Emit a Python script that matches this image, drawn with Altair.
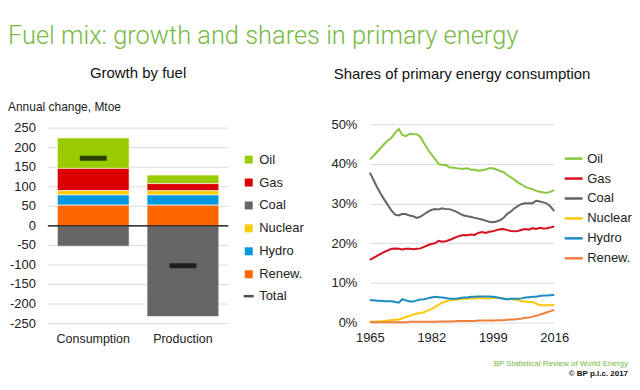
import altair as alt
import pandas as pd

# ---------------- data ----------------
fuels = ["Oil", "Gas", "Coal", "Nuclear", "Hydro", "Renew."]
stack_rank = [4, 3, 5, 2, 1, 0]          # stacking order (Renew. at the bottom)
groups = ["Consumption", "Production"]
consumption = [78, 57, -52, 11, 26, 53]
production = [22, 18, -232, 11, 26, 53]
totals = [173, -102]
total_label = "Total"

years = list(range(1965, 2017))
oil = [41.2, 42.0, 43.0, 44.0, 45.0, 45.9, 46.6, 47.8, 48.8, 47.3,
       47.0, 47.6, 47.5, 47.5, 46.8, 45.2, 43.7, 42.4, 41.3, 40.0,
       39.7, 39.8, 39.1, 39.1, 38.9, 38.8, 38.8, 38.9, 38.5, 38.5,
       38.3, 38.4, 38.6, 38.9, 38.9, 38.6, 38.2, 37.9, 37.2, 36.6,
       36.0, 35.3, 34.8, 34.2, 33.9, 33.6, 33.2, 33.0, 32.8, 32.7,
       33.0, 33.4]
gas = [15.8, 16.3, 16.8, 17.3, 17.8, 18.2, 18.6, 18.7, 18.6, 18.4,
       18.6, 18.6, 18.5, 18.6, 18.7, 19.1, 19.5, 19.8, 20.0, 20.6,
       20.4, 20.5, 20.8, 21.2, 21.6, 21.9, 22.1, 22.0, 22.2, 22.1,
       22.6, 22.8, 22.6, 22.9, 23.0, 23.3, 23.5, 23.6, 23.3, 23.1,
       23.0, 23.1, 23.4, 23.6, 23.4, 23.8, 23.6, 23.9, 23.7, 23.8,
       24.0, 24.2]
coal = [37.8, 36.0, 34.1, 32.5, 31.0, 29.6, 28.2, 27.2, 27.0, 27.4,
        27.3, 27.0, 26.8, 26.4, 26.7, 27.3, 27.9, 28.4, 28.6, 28.5,
        28.8, 28.6, 28.6, 28.3, 27.9, 27.4, 27.0, 26.8, 26.6, 26.4,
        26.2, 26.0, 25.7, 25.4, 25.3, 25.5, 25.8, 26.4, 27.4, 28.0,
        28.8, 29.4, 29.9, 30.1, 30.1, 30.1, 30.7, 30.5, 30.3, 30.0,
        29.2, 28.1]
nuclear = [0.2, 0.2, 0.3, 0.3, 0.4, 0.5, 0.6, 0.7, 0.8, 1.1,
           1.4, 1.7, 2.0, 2.3, 2.4, 2.6, 3.0, 3.4, 3.9, 4.5,
           5.0, 5.3, 5.6, 5.7, 5.8, 5.9, 6.0, 6.0, 6.1, 6.1,
           6.2, 6.2, 6.1, 6.1, 6.2, 6.2, 6.2, 6.1, 5.9, 5.9,
           5.8, 5.7, 5.4, 5.3, 5.2, 5.2, 4.8, 4.4, 4.4, 4.4,
           4.4, 4.5]
hydro = [5.6, 5.6, 5.5, 5.5, 5.4, 5.4, 5.4, 5.2, 5.0, 5.9,
         5.6, 5.3, 5.3, 5.6, 5.8, 5.9, 6.1, 6.3, 6.5, 6.4,
         6.3, 6.2, 6.0, 6.0, 6.0, 6.2, 6.3, 6.3, 6.5, 6.5,
         6.6, 6.6, 6.6, 6.6, 6.5, 6.4, 6.2, 6.0, 5.9, 6.0,
         6.0, 6.0, 6.1, 6.3, 6.4, 6.5, 6.5, 6.7, 6.8, 6.8,
         6.9, 7.0]
renew = [0.1, 0.1, 0.1, 0.1, 0.1, 0.1, 0.1, 0.1, 0.1, 0.1,
         0.1, 0.2, 0.2, 0.2, 0.2, 0.2, 0.2, 0.2, 0.2, 0.3,
         0.3, 0.3, 0.3, 0.3, 0.4, 0.4, 0.4, 0.4, 0.4, 0.4,
         0.5, 0.5, 0.5, 0.5, 0.5, 0.6, 0.6, 0.6, 0.7, 0.8,
         0.8, 0.9, 1.0, 1.2, 1.3, 1.5, 1.7, 2.0, 2.3, 2.6,
         2.9, 3.2]
shares_pct = [oil, gas, coal, nuclear, hydro, renew]

y_ticks_left = [-250, -200, -150, -100, -50, 0, 50, 100, 150, 200, 250]
y_ticks_right = [0, 0.1, 0.2, 0.3, 0.4, 0.5]
x_ticks_right = [1965, 1982, 1999, 2016]

main_title = "Fuel mix: growth and shares in primary energy"
left_title = "Growth by fuel"
right_title = "Shares of primary energy consumption"
left_axis_title = "Annual change, Mtoe"
footer_lines = ["BP Statistical Review of World Energy", "© BP p.l.c. 2017"]

# ---------------- styles ----------------
GREEN = "#76b943"
FONT = "Liberation Sans"
bar_colors = ["#99cc00", "#dd0000", "#666666", "#ffcc00", "#0099e0", "#ff6600"]
line_colors = ["#8cc63e", "#d8101e", "#636466", "#f8c80b", "#1b8cc1", "#f07f3c"]

# ---------------- tables ----------------
bar_rows = []
for g, vals in zip(groups, [consumption, production]):
    for f, v, r in zip(fuels, vals, stack_rank):
        bar_rows.append({"group": g, "fuel": f, "value": v, "rank": r})
bar_df = pd.DataFrame(bar_rows)
total_df = pd.DataFrame({"group": groups, "value": totals, "label": [total_label] * 2})
zero_df = pd.DataFrame({"value": [0]})
ytick_df = pd.DataFrame({"value": y_ticks_left, "lab": [str(v) for v in y_ticks_left]})
ytitle_df = pd.DataFrame({"t": [left_axis_title]})

line_rows = []
for f, series in zip(fuels, shares_pct):
    for yr, v in zip(years, series):
        line_rows.append({"year": yr, "fuel": f, "share": v / 100.0})
line_df = pd.DataFrame(line_rows)

# ---------------- left panel ----------------
y_scale_left = alt.Scale(domain=[-250, 260], nice=False, zero=False)
x_left = alt.X("group:N", sort=groups,
               scale=alt.Scale(paddingInner=0.2, paddingOuter=0.106),
               axis=alt.Axis(title=None, labelAngle=0, ticks=False, domain=False,
                             labelPadding=9, labelFontSize=12.5, grid=False))

grid_left = alt.Chart(ytick_df).mark_rule(color="#dcdcdc", strokeWidth=1).encode(
    y=alt.Y("value:Q", scale=y_scale_left, axis=None))
ylabels_left = alt.Chart(ytick_df).mark_text(
    align="right", baseline="middle", fontSize=13, font=FONT, color="#222").encode(
    y=alt.Y("value:Q", scale=y_scale_left, axis=None), x=alt.value(-12), text="lab:N")
ytitle_left = alt.Chart(ytitle_df).mark_text(
    align="left", baseline="middle", fontSize=12, font=FONT, color="#222").encode(
    x=alt.value(-40), y=alt.value(-17), text="t:N")

bars = alt.Chart(bar_df).mark_bar(stroke="white", strokeWidth=0.6).encode(
    x=x_left,
    y=alt.Y("value:Q", stack="zero", scale=y_scale_left, axis=None),
    color=alt.Color("fuel:N", scale=alt.Scale(domain=fuels, range=bar_colors),
                    legend=alt.Legend(title=None, orient="none", legendX=195, legendY=29,
                                      symbolType="square", symbolSize=64, symbolStrokeWidth=0,
                                      labelFontSize=13, rowPadding=9, labelOffset=4, padding=0)),
    order=alt.Order("rank:Q", sort="ascending"),
)
zero_rule = alt.Chart(zero_df).mark_rule(color="black", strokeWidth=1.3).encode(
    y=alt.Y("value:Q", scale=y_scale_left, axis=None))
total_tick = alt.Chart(total_df).mark_tick(thickness=5, size=27).encode(
    x=x_left,
    y=alt.Y("value:Q", scale=y_scale_left, axis=None),
    color=alt.Color("label:N", scale=alt.Scale(domain=[total_label], range=["black"]),
                    legend=alt.Legend(title=None, orient="none", legendX=195, legendY=166,
                                      symbolType="M-1,-0.25H1V0.25H-1Z", symbolSize=100,
                                      symbolFillColor="black", symbolStrokeWidth=0,
                                      labelFontSize=13, labelOffset=4, padding=0)),
)
left = alt.layer(grid_left, bars, zero_rule, total_tick, ylabels_left, ytitle_left).resolve_scale(
    color="independent").properties(
    width=181, height=200,
    title=alt.TitleParams(left_title, fontSize=15, fontWeight="normal", font=FONT,
                          color="#111", anchor="middle", frame="group", offset=20),
)

# ---------------- right panel ----------------
lines = alt.Chart(line_df).mark_line(strokeWidth=2).encode(
    x=alt.X("year:Q", scale=alt.Scale(domain=[1965, 2016], nice=False, zero=False),
            axis=alt.Axis(values=x_ticks_right, format="d", title=None, grid=False, ticks=False,
                          domain=False, labelPadding=9, labelFontSize=13, labelFlush=False,
                          labelOverlap=False)),
    y=alt.Y("share:Q", scale=alt.Scale(domain=[0, 0.5], nice=False),
            axis=alt.Axis(values=y_ticks_right, format=".0%", title=None, ticks=False,
                          domain=False, labelPadding=13, labelFontSize=13, gridColor="#dcdcdc")),
    color=alt.Color("fuel:N", scale=alt.Scale(domain=fuels, range=line_colors),
                    legend=alt.Legend(title=None, orient="none", legendX=194, legendY=24,
                                      symbolType="stroke", symbolSize=324, symbolStrokeWidth=2.5,
                                      labelFontSize=13, rowPadding=2, labelOffset=3, padding=0)),
    order="year:Q",
)
foot_df = pd.DataFrame({"t": footer_lines, "row": [0, 1]})
foot1 = alt.Chart(foot_df).transform_filter("datum.row == 0").mark_text(
    align="right", baseline="middle", fontSize=8, font=FONT, color=GREEN).encode(
    x=alt.value(259), y=alt.value(241), text="t:N")
foot2 = alt.Chart(foot_df).transform_filter("datum.row == 1").mark_text(
    align="right", baseline="middle", fontSize=8, font=FONT, fontWeight="bold", color="#111").encode(
    x=alt.value(259), y=alt.value(251), text="t:N")
right = alt.layer(lines, foot1, foot2).properties(
    width=185, height=199,
    title=alt.TitleParams(right_title, fontSize=15, fontWeight="normal", font=FONT,
                          color="#111", anchor="middle", frame="group", offset=36),
)

chart = alt.hconcat(left, right, spacing=26).resolve_scale(color="independent").properties(
    padding={"top": 15, "left": 0, "right": 0, "bottom": 0},
    title=alt.TitleParams(main_title, font="Roboto", fontWeight=300, fontSize=25.5, color=GREEN,
                          anchor="start", offset=17),
).configure_view(strokeWidth=0).configure_axis(
    labelFont=FONT, titleFont=FONT, labelColor="#222"
).configure_legend(labelFont=FONT, labelColor="#222")

chart.save("out.html", embed_options={"renderer": "svg", "actions": False})
